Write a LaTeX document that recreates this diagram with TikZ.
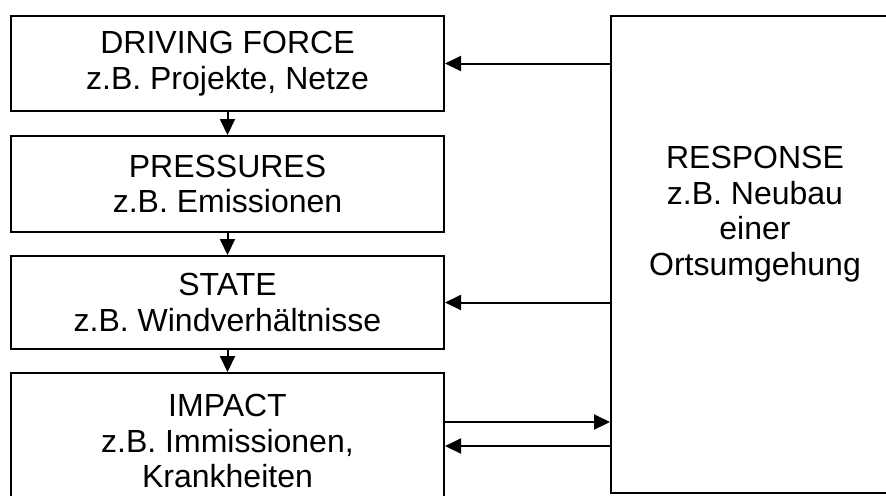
\documentclass[tikz,border=0pt]{standalone}
\usepackage{fontspec}
\setmainfont{Liberation Sans}
\usetikzlibrary{arrows.meta}
\newcommand{\dpsirtip}{Triangle[length=8pt, width=7.5pt]}
\tikzset{
  dpsirbox/.style={draw, line width=1pt, minimum width=216.5pt, align=center,
    font=\fontsize{16pt}{17.75pt}\selectfont},
  dpsirtext/.style={align=center, font=\fontsize{16pt}{17.75pt}\selectfont}
}

\begin{document}
\begin{tikzpicture}[x=0.5pt, y=-0.5pt]
  % frame is (0,0) to (886,495), y counted downwards
  \clip (0,0) rectangle (886,495);

  % left column
  \node[dpsirbox, minimum height=47.5pt] (driving) at (227.5, 63.5) {DRIVING FORCE\\z.B. Projekte, Netze};
  \node[dpsirbox, minimum height=48pt] (pressures) at (227.5, 184) {PRESSURES\\z.B. Emissionen};
  \node[dpsirbox, minimum height=46.5pt] (state) at (227.5, 302.5) {STATE\\z.B. Windverhältnisse};
  \node[dpsirbox, minimum height=68pt] (impact) at (227.5, 441) {IMPACT\\z.B. Immissionen,\\Krankheiten};

  % response box
  \node[draw, line width=1pt, minimum width=144pt, minimum height=238.5pt] (response) at (755, 254.5) {};
  \node[dpsirtext] (resptext) at (755, 214) {RESPONSE\\z.B. Neubau\\einer\\Ortsumgehung};

  % chain
  \draw[-\dpsirtip, line width=1pt] (driving) -- (pressures);
  \draw[-\dpsirtip, line width=1pt] (pressures) -- (state);
  \draw[-\dpsirtip, line width=1pt] (state) -- (impact);

  % feedback
  \draw[-\dpsirtip, line width=1pt] (response.west |- driving) -- (driving);
  \draw[-\dpsirtip, line width=1pt] (response.west |- state) -- (state);
  \draw[-\dpsirtip, line width=1pt] (impact.east |- 0,422) -- (response.west |- 0,422);
  \draw[-\dpsirtip, line width=1pt] (response.west |- 0,446) -- (impact.east |- 0,446);

\end{tikzpicture}
\end{document}
